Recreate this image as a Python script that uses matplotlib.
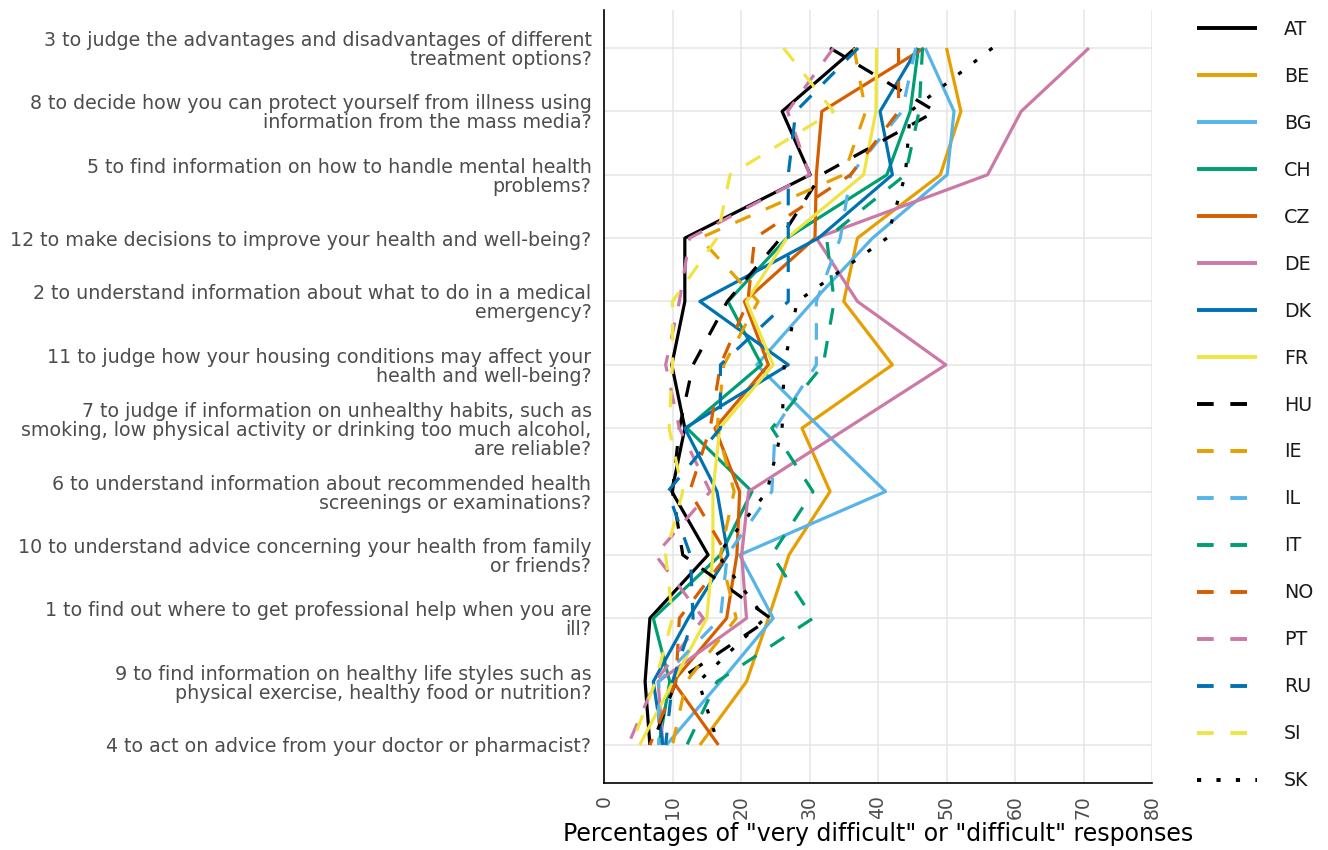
import matplotlib
matplotlib.use("Agg")
import matplotlib.pyplot as plt
from matplotlib.lines import Line2D

plt.rcParams['font.family'] = ['DejaVu Sans']
plt.rcParams['lines.scale_dashes'] = False

items = [
    "3 to judge the advantages and disadvantages of different\ntreatment options?",
    "8 to decide how you can protect yourself from illness using\ninformation from the mass media?",
    "5 to find information on how to handle mental health\nproblems?",
    "12 to make decisions to improve your health and well-being?",
    "2 to understand information about what to do in a medical\nemergency?",
    "11 to judge how your housing conditions may affect your\nhealth and well-being?",
    "7 to judge if information on unhealthy habits, such as\nsmoking, low physical activity or drinking too much alcohol,\nare reliable?",
    "6 to understand information about recommended health\nscreenings or examinations?",
    "10 to understand advice concerning your health from family\nor friends?",
    "1 to find out where to get professional help when you are\nill?",
    "9 to find information on healthy life styles such as\nphysical exercise, healthy food or nutrition?",
    "4 to act on advice from your doctor or pharmacist?",
]

countries = ["AT", "BE", "BG", "CH", "CZ", "DE", "DK", "FR",
             "HU", "IE", "IL", "IT", "NO", "PT", "RU", "SI", "SK"]

AT = [36.7, 26.0, 30.1, 11.8, 11.8, 9.9, 11.8, 9.9, 15.2, 6.7, 6.0, 6.7]
BE = [50.0, 52.1, 49.1, 37.0, 35.0, 42.1, 28.9, 33.0, 27.0, 24.0, 20.8, 14.0]
BG = [46.9, 51.1, 50.1, 39.2, 30.5, 22.3, 31.6, 41.1, 19.8, 24.7, 17.0, 9.1]
CH = [45.9, 44.7, 41.3, 26.7, 18.1, 23.0, 12.1, 21.6, 17.0, 7.2, 9.6, 8.0]
CZ = [46.7, 31.8, 31.0, 30.8, 20.5, 24.0, 16.2, 19.8, 19.4, 17.9, 10.1, 16.7]
DE = [70.8, 60.9, 56.0, 31.0, 37.0, 49.9, 35.5, 21.1, 20.1, 20.8, 7.9, 8.6]
DK = [45.8, 40.3, 42.1, 31.3, 14.0, 26.9, 11.8, 16.5, 18.1, 12.3, 7.2, 8.6]
FR = [39.8, 39.7, 37.9, 26.7, 20.8, 24.7, 16.9, 15.9, 15.9, 15.0, 10.1, 5.2]
HU = [33.0, 48.4, 31.7, 25.8, 18.0, 13.0, 11.0, 10.0, 11.5, 24.3, 10.5, 7.0]
IE = [36.5, 38.2, 35.0, 14.0, 22.5, 17.5, 16.5, 19.0, 17.0, 19.3, 12.0, 10.0]
IL = [45.5, 43.5, 36.0, 34.5, 31.0, 31.0, 25.0, 24.5, 18.0, 17.0, 8.0, 8.0]
IT = [46.5, 46.0, 44.0, 32.5, 33.6, 32.0, 24.5, 30.5, 24.5, 30.5, 16.5, 12.1]
NO = [43.0, 43.0, 36.0, 22.0, 21.0, 17.0, 15.5, 12.5, 18.0, 11.0, 10.5, 6.7]
PT = [33.5, 26.8, 30.0, 12.5, 11.0, 9.0, 11.0, 15.5, 7.5, 14.5, 7.5, 3.5]
RU = [37.1, 28.0, 26.9, 26.9, 26.9, 17.0, 17.0, 9.3, 12.6, 13.0, 10.0, 9.0]
SI = [26.2, 33.5, 18.4, 16.5, 10.0, 10.0, 9.5, 11.5, 9.0, 10.0, 7.5, 4.0]
SK = [56.7, 44.7, 44.0, 41.3, 28.2, 26.3, 26.0, 23.8, 16.6, 23.5, 13.8, 16.7]

values = [AT, BE, BG, CH, CZ, DE, DK, FR, HU, IE, IL, IT, NO, PT, RU, SI, SK]

palette = ["#000000", "#E69F00", "#56B4E9", "#009E73",
           "#D55E00", "#CC79A7", "#0072B2", "#F0E442"]
colors = palette + palette + ["#000000"]
styles = ["-"] * 8 + [(0, (12, 12))] * 8 + [(0, (3, 11))]

fig = plt.figure(figsize=(13.28, 8.5), dpi=100)
ax = fig.add_axes([604 / 1328, 1 - 783 / 850, (1152 - 604) / 1328, (783 - 10) / 850])

ypos = list(range(len(items)))
for name, vals, c, ls in zip(countries, values, colors, styles):
    ax.plot(vals, ypos, color=c, linestyle=ls, linewidth=2.3,
            solid_capstyle='butt', dash_capstyle='butt',
            solid_joinstyle='round', dash_joinstyle='round', label=name)

ax.set_xlim(0, 80)
ax.set_ylim(11.6, -0.6)
ax.set_xticks(range(0, 81, 10))
ax.set_yticks(ypos)
ax.set_yticklabels(items, fontsize=13.7, color="#4D4D4D", ha='right',
                   linespacing=1.0)
ax.tick_params(axis='both', length=0)
ax.tick_params(axis='y', pad=9)
ax.tick_params(axis='x', pad=9, labelsize=13.5, labelcolor="#4D4D4D",
               labelrotation=90)
for lab in ax.get_xticklabels():
    lab.set_va('top')

ax.grid(True, color="#E5E5E5", linewidth=1.1)
ax.set_axisbelow(True)
for s in ["top", "right"]:
    ax.spines[s].set_visible(False)
for s in ["left", "bottom"]:
    ax.spines[s].set_color("black")
    ax.spines[s].set_linewidth(1.2)

ax.set_xlabel('Percentages of "very difficult" or "difficult" responses',
              fontsize=17, labelpad=2)

handles = [Line2D([0], [0], color=c, linestyle=ls, linewidth=2.8,
                  dash_capstyle='butt', solid_capstyle='butt')
           for c, ls in zip(colors, styles)]
fig.legend(handles, countries, loc='center left',
           bbox_to_anchor=(1180 / 1328, 1 - 405 / 850),
           frameon=False, fontsize=13.7, handlelength=3.15,
           handletextpad=1.42, labelspacing=1.47, labelcolor="#1A1A1A")

fig.savefig("out.png", dpi=100)
